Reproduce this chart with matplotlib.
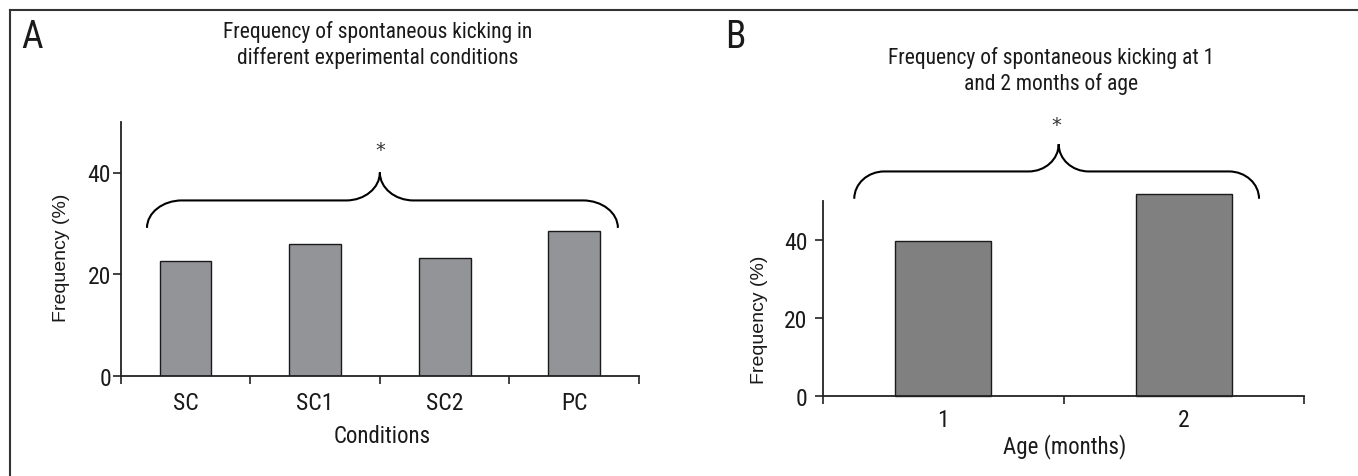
import matplotlib
matplotlib.use('Agg')
import matplotlib.pyplot as plt
from matplotlib.path import Path
from matplotlib.patches import PathPatch
from matplotlib.lines import Line2D
from matplotlib.ticker import FixedLocator, NullFormatter

# data
cond_labels = ['SC', 'SC1', 'SC2', 'PC']
cond_freq = [22.5, 26.0, 23.1, 28.4]
age_labels = ['1', '2']
age_freq = [39.7, 51.7]

W, H = 1358, 477
plt.rcParams['font.family'] = ['Liberation Sans Narrow', 'Roboto Condensed',
                               'Open Sans Condensed', 'Liberation Sans', 'DejaVu Sans']
fig = plt.figure(figsize=(W / 100, H / 100), dpi=100)


def fx(x):
    return x / W


def fy(y):
    return 1 - y / H


def brace(ax, x0, x1, xm, y_end, y_mid, y_top, rx_end, rx_mid):
    # curly bracket drawn from quarter-ellipse bezier segments
    k = 0.5523
    re, rm = rx_end, rx_mid
    ry1 = y_mid - y_end
    ry2 = y_top - y_mid
    verts = [
        (x0, y_end),
        (x0, y_end + k * ry1), (x0 + re - k * re, y_mid), (x0 + re, y_mid),
        (xm - rm, y_mid),
        (xm - rm + k * rm, y_mid), (xm, y_top - k * ry2), (xm, y_top),
        (xm, y_top - k * ry2), (xm + rm - k * rm, y_mid), (xm + rm, y_mid),
        (x1 - re, y_mid),
        (x1 - re + k * re, y_mid), (x1, y_end + k * ry1), (x1, y_end),
    ]
    codes = [Path.MOVETO,
             Path.CURVE4, Path.CURVE4, Path.CURVE4,
             Path.LINETO,
             Path.CURVE4, Path.CURVE4, Path.CURVE4,
             Path.CURVE4, Path.CURVE4, Path.CURVE4,
             Path.LINETO,
             Path.CURVE4, Path.CURVE4, Path.CURVE4]
    p = PathPatch(Path(verts, codes), fill=False, lw=1.5, ec='black',
                  clip_on=False, capstyle='butt')
    ax.add_patch(p)


def style_axes(ax, n, pad_x, pad_y):
    for s in ['top', 'right']:
        ax.spines[s].set_visible(False)
    for s in ['left', 'bottom']:
        ax.spines[s].set_color('#222222')
        ax.spines[s].set_linewidth(1.3)
    ax.set_xlim(-0.5, n - 0.5)
    ax.set_ylim(0, 50)
    ax.xaxis.set_major_locator(FixedLocator([i - 0.5 for i in range(n + 1)]))
    ax.xaxis.set_major_formatter(NullFormatter())
    ax.xaxis.set_minor_locator(FixedLocator(list(range(n))))
    ax.tick_params(axis='x', which='major', length=6, width=1.2,
                   color='#222222', direction='out')
    ax.tick_params(axis='x', which='minor', length=0, pad=pad_x,
                   labelsize=17, colors='#1a1a1a')
    ax.set_yticks([0, 20, 40])
    ax.tick_params(axis='y', length=6, width=1.2, color='#222222',
                   pad=pad_y, labelsize=17, labelcolor='#1a1a1a')
    ax.patch.set_alpha(0)


# ---- panel A
axA = fig.add_axes([fx(120.7), fy(376.7), (639 - 120.7) / W, (376.7 - 122.7) / H])
style_axes(axA, len(cond_labels), 11, 1)
axA.bar(range(len(cond_freq)), cond_freq, width=0.4, color='#939498',
        edgecolor='#1a1a1a', linewidth=1.0, zorder=2)
axA.set_xticks(range(len(cond_labels)), cond_labels, minor=True)
brace(axA, -0.297, 3.337, 1.5, 29.1, 34.5, 40.0, 0.27, 0.26)
axA.text(1.5, 44.6, '*', ha='center', va='center', fontsize=14,
         color='#333333', family='DejaVu Sans')

# ---- panel B
axB = fig.add_axes([fx(823), fy(396.7), (1304 - 823) / W, (396.7 - 201.7) / H])
style_axes(axB, len(age_labels), 9, 5)
axB.bar(range(len(age_freq)), age_freq, width=0.4, color='#808080',
        edgecolor='#1a1a1a', linewidth=1.0, zorder=2, clip_on=False)
axB.set_xticks(range(len(age_labels)), age_labels, minor=True)
brace(axB, -0.37, 1.313, 0.48, 50.5, 57.5, 64.5, 0.125, 0.125)
axB.text(0.47, 69.5, '*', ha='center', va='center', fontsize=14,
         color='#333333', family='DejaVu Sans')

# ---- texts
fig.text(fx(378), fy(21), 'Frequency of spontaneous kicking in\ndifferent experimental conditions',
         ha='center', va='top', fontsize=15.5, linespacing=1.25, color='#1a1a1a')
fig.text(fx(1051), fy(47), 'Frequency of spontaneous kicking at 1\nand 2 months of age',
         ha='center', va='top', fontsize=15.5, linespacing=1.25, color='#1a1a1a')
fig.text(fx(382), fy(437), 'Conditions', ha='center', va='center',
         fontsize=16.5, color='#1a1a1a')
fig.text(fx(1065), fy(447), 'Age (months)', ha='center', va='center',
         fontsize=16.5, color='#1a1a1a')
fig.text(fx(62), fy(258), 'Frequency (%)', ha='center', va='center',
         rotation=90, fontsize=14, family=['Liberation Sans', 'DejaVu Sans'],
         color='#1a1a1a')
fig.text(fx(759), fy(320), 'Frequency (%)', ha='center', va='center',
         rotation=90, fontsize=14, family=['Liberation Sans', 'DejaVu Sans'],
         color='#1a1a1a')
fig.text(fx(21), fy(48), 'A', ha='left', va='baseline', fontsize=27,
         color='#1a1a1a')
fig.text(fx(725), fy(48), 'B', ha='left', va='baseline', fontsize=27,
         color='#1a1a1a')

# frame lines
fig.add_artist(Line2D([fx(10), fx(10)], [fy(11), 0], color='#333333', lw=1.5))
fig.add_artist(Line2D([fx(10), fx(1357)], [fy(11), fy(11)], color='#333333', lw=1.5))

fig.savefig('out.png', dpi=100)
